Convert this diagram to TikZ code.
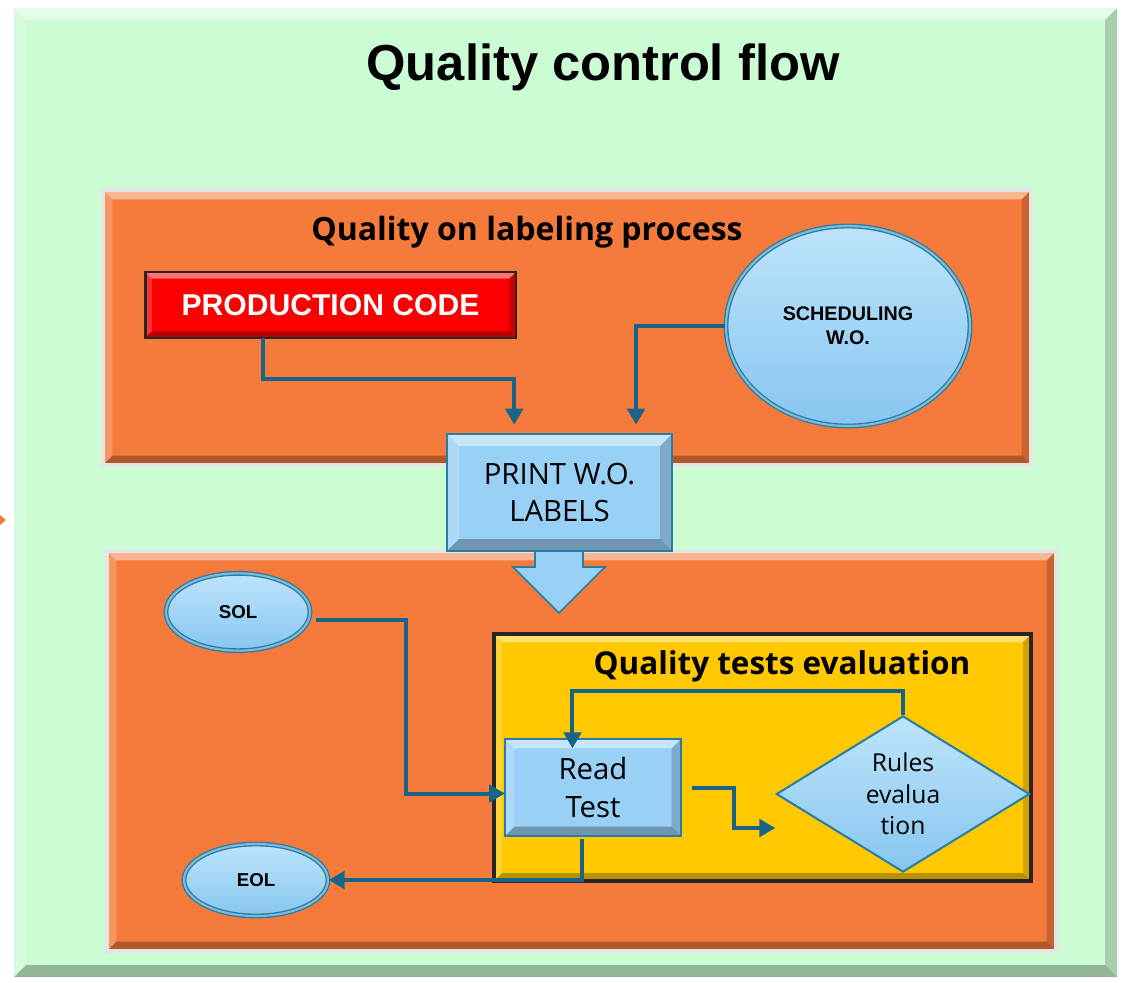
\documentclass[tikz,border=0pt]{standalone}
\usepackage{fontspec}
\setmainfont{Liberation Sans}
\newfontfamily\osans{Open Sans}
\usetikzlibrary{shapes.geometric,arrows.meta,fit}

\definecolor{bggreen}{RGB}{204,252,212}
\definecolor{boxorange}{RGB}{244,123,59}
\definecolor{boxyellow}{RGB}{255,200,0}
\definecolor{prodred}{RGB}{250,0,0}
\definecolor{lblue}{RGB}{153,208,245}
\definecolor{lbluetop}{RGB}{190,228,250}
\definecolor{lbluebot}{RGB}{135,198,240}
\definecolor{bborder}{RGB}{40,125,165}
\definecolor{ringc}{RGB}{130,185,215}
\definecolor{arrowc}{RGB}{24,100,136}

\newcommand\mybevel[1]{%
  \coordinate (bNW) at (path picture bounding box.north west);
  \coordinate (bNE) at (path picture bounding box.north east);
  \coordinate (bSW) at (path picture bounding box.south west);
  \coordinate (bSE) at (path picture bounding box.south east);
  \fill[white,opacity=.45] (bNW) -- (bNE) -- ([shift={(-#1,-#1)}]bNE) -- ([shift={(#1,-#1)}]bNW) -- cycle;
  \fill[white,opacity=.2] (bNW) -- ([shift={(#1,-#1)}]bNW) -- ([shift={(#1,#1)}]bSW) -- (bSW) -- cycle;
  \fill[black,opacity=.28] (bSW) -- ([shift={(#1,#1)}]bSW) -- ([shift={(-#1,#1)}]bSE) -- (bSE) -- cycle;
  \fill[black,opacity=.18] (bSE) -- ([shift={(-#1,#1)}]bSE) -- ([shift={(-#1,-#1)}]bNE) -- (bNE) -- cycle;
}

\tikzset{
  bev/.style={path picture={\mybevel{#1}}},
  panel/.style={inner sep=0pt, outer sep=0pt},
  arr/.style={draw=arrowc, line width=3pt, -{Triangle[length=12pt,width=13pt]}},
  oval/.style={ellipse, inner sep=0pt, top color=lbluetop, bottom color=lbluebot,
    draw=bborder, double=ringc, double distance=1.6pt, line width=1pt},
  headA/.style={font=\osans\bfseries\fontsize{24}{26}\selectfont},
  bluetext/.style={font=\osans\fontsize{22}{28}\selectfont, align=center}
}

\begin{document}
\begin{tikzpicture}[x=0.75pt,y=-0.75pt]
\useasboundingbox (0,0) rectangle (1124,982);
\fill[white] (0,0) rectangle (1124,982);

% stray arrowhead at the left edge
\fill[boxorange] (0,515) -- (6,520) -- (0,525) -- cycle;

% outer panel
\node[panel, fit={(14,8) (1117,977)}, fill=bggreen, bev=9pt] (outer) {};
\node[font=\bfseries\fontsize{38}{40}\selectfont] (title) at (603,67) {Quality control flow};

% upper orange panel
\node[panel, fit={(103,190) (1031,465)}, fill=boxorange, draw=white!80!gray, line width=2.5pt, bev=7pt] (upper) {};
\node[headA] (h1) at (527,232) {Quality on labeling process};

\node[panel, minimum width=278pt, minimum height=49.5pt, fill=prodred, draw=black!85, line width=2pt, bev=5pt,
  text=white, font=\bfseries\fontsize{22.6}{24}\selectfont] (prod) at (330.5,305) {PRODUCTION CODE};

\node[oval, minimum width=183pt, minimum height=150pt, align=center,
  font=\bfseries\fontsize{14.8}{18}\selectfont] (sched) at (848,326) {SCHEDULING\\W.O.};

% lower orange panel
\node[panel, fit={(107,551) (1056,951)}, fill=boxorange, draw=white!80!gray, line width=2.5pt, bev=7pt] (lower) {};

% block arrow below the print box
\filldraw[fill=lblue, draw=bborder, line width=1.2pt]
  (535,548) -- (535,567) -- (513,567) -- (559,613) -- (605,567) -- (583,567) -- (583,548) -- cycle;

\node[panel, minimum width=168.75pt, minimum height=87.75pt, fill=lblue, draw=bborder, line width=1.5pt, bev=9pt,
  bluetext] (print) at (559.5,492.5) {PRINT W.O.\\LABELS};

% yellow panel
\node[panel, fit={(494,634) (1031,881)}, fill=boxyellow, draw=black!85, line width=2.5pt, bev=6pt] (yellow) {};
\node[headA, font=\osans\bfseries\fontsize{23.6}{26}\selectfont] (h2) at (782,666) {Quality tests evaluation};

\node[oval, minimum width=108pt, minimum height=58pt, font=\bfseries\fontsize{14}{16}\selectfont] (sol) at (238,612) {SOL};
\node[oval, minimum width=108pt, minimum height=54pt, font=\bfseries\fontsize{14}{16}\selectfont] (eol) at (256,880) {EOL};

\node[panel, minimum width=132pt, minimum height=72.75pt, fill=lblue, draw=bborder, line width=1.5pt, bev=7pt,
  bluetext] (read) at (593,787.5) {Read\\Test};

\node[diamond, inner sep=0pt, minimum width=190pt, minimum height=110pt,
  top color=lbluetop, bottom color=lbluebot, draw=bborder, line width=1.5pt,
  font=\osans\fontsize{18.5}{23.5}\selectfont, align=center] (rules) at (903,794) {Rules\\evalua\\tion};

% connectors
\draw[arr, shorten >=7pt] ([xshift=-51pt]prod.south) -- ++(0,41) -| ([xshift=-34pt]print.north);
\draw[arr, shorten >=7pt] (sched.west) -| ([xshift=57.4pt]print.north);
\draw[arr] ([xshift=4pt,yshift=-6pt]sol.east) -- ++(90,0) |- ([yshift=-4.5pt]read.west);
\draw[arr] ([xshift=-8pt,yshift=-2pt]read.south) |- (eol.east);
\draw[arr] ([xshift=8pt]read.east) -- ++(42,0) |- ([yshift=-25.5pt]rules.west);
\draw[arr] (rules.north) -- ++(0,-24) -| ([xshift=-15.4pt,yshift=-7pt]read.north);
\end{tikzpicture}
\end{document}
